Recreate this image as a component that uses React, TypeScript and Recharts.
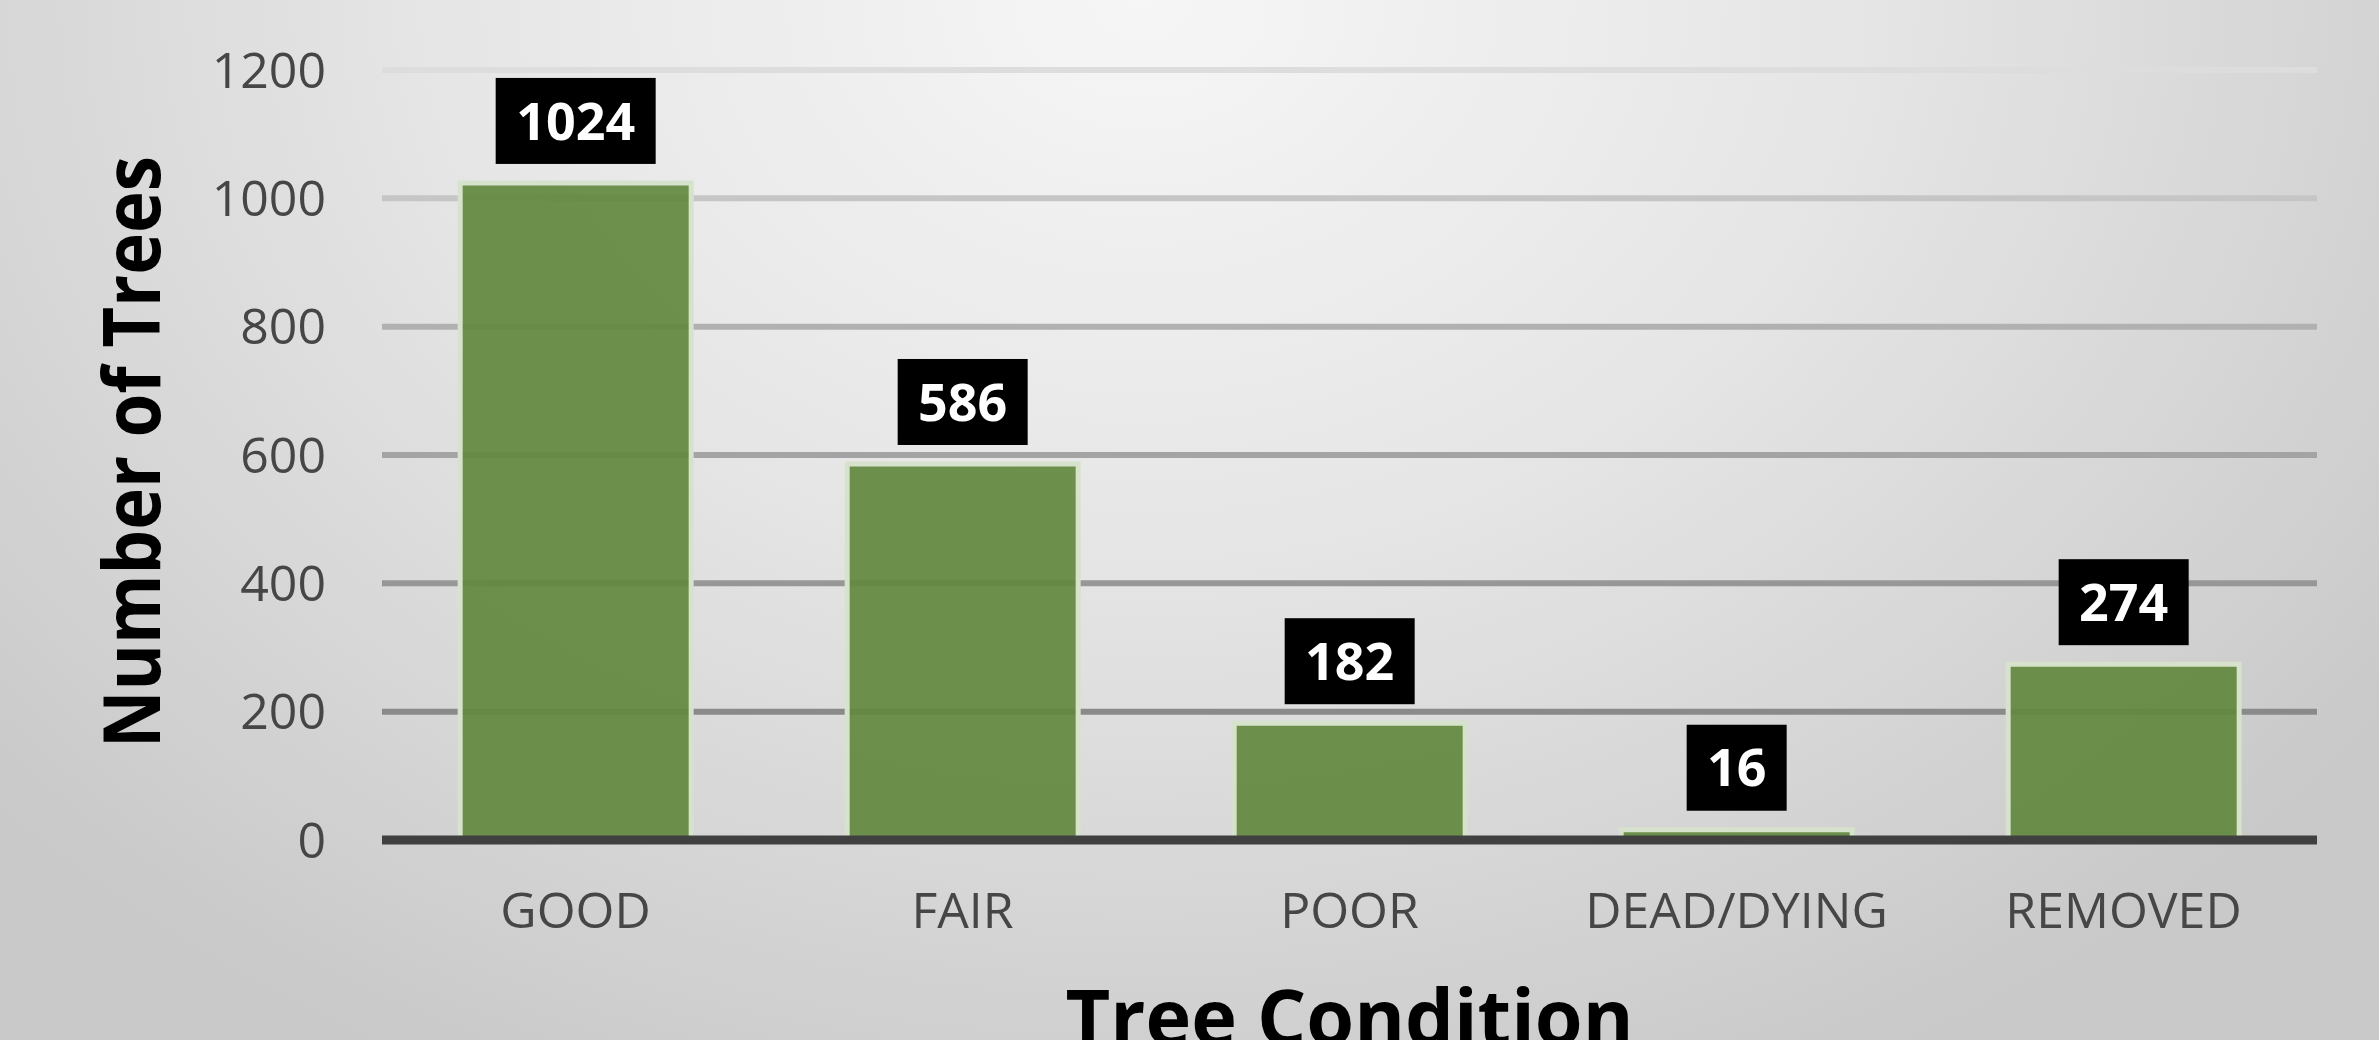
import React from 'react';
import { BarChart, Bar, XAxis, YAxis, CartesianGrid, LabelList, Label } from 'recharts';

const categories = ['GOOD', 'FAIR', 'POOR', 'DEAD/DYING', 'REMOVED'];
const treeCounts = [1024, 586, 182, 16, 274];
const yTicks = [0, 200, 400, 600, 800, 1000, 1200];

const data = categories.map((name, i) => ({ name, count: treeCounts[i] }));

const FONT = '"Open Sans", "DejaVu Sans", sans-serif';

const renderValueLabel = (props: any) => {
  const { x, y, width, value } = props;
  const cx = Number(x) + Number(width) / 2;
  const text = String(value);
  const boxW = text.length * 30 + 40;
  const boxH = 86;
  const bottom = Number(y) - 19;
  const top = bottom - boxH;
  return (
    <g>
      <rect x={cx - boxW / 2} y={top} width={boxW} height={boxH} fill="#000000" />
      <text
        x={cx}
        y={top + boxH / 2}
        dy="0.36em"
        textAnchor="middle"
        fill="#ffffff"
        fontFamily={FONT}
        fontWeight={700}
        fontSize={52}
      >
        {text}
      </text>
    </g>
  );
};

const renderXTitle = (props: any) => {
  const vb = props.viewBox || {};
  const cx = vb.x + vb.width / 2;
  return (
    <text
      x={cx}
      y={vb.y + 205}
      textAnchor="middle"
      fill="#000000"
      fontFamily={FONT}
      fontWeight={700}
      fontSize={77}
      textLength={568}
      lengthAdjust="spacingAndGlyphs"
    >
      Tree Condition
    </text>
  );
};

const renderYTitle = (props: any) => {
  const vb = props.viewBox || {};
  const bx = vb.x + 160;
  const cy = vb.y + vb.height / 2 - 3;
  return (
    <text
      x={bx}
      y={cy}
      transform={`rotate(-90, ${bx}, ${cy})`}
      textAnchor="middle"
      fill="#000000"
      fontFamily={FONT}
      fontWeight={700}
      fontSize={78}
      textLength={592}
      lengthAdjust="spacingAndGlyphs"
    >
      Number of Trees
    </text>
  );
};

export default function App() {
  return (
    <div
      style={{
        position: 'absolute',
        left: 0,
        top: 0,
        width: 2379,
        height: 1040,
        overflow: 'hidden',
        background:
          'radial-gradient(ellipse 65% 115% at 48% 0%, #f6f6f6 0%, #e6e6e6 45%, #c9c9c9 100%)',
      }}
    >
      <BarChart
        width={2379}
        height={1040}
        data={data}
        margin={{ top: 70, right: 62, bottom: 0, left: 0 }}
        barCategoryGap="20.2%"
      >
        <defs>
          <linearGradient id="gridGrad" gradientUnits="userSpaceOnUse" x1="0" y1="70" x2="0" y2="711">
            <stop offset="0%" stopColor="#dddddd" />
            <stop offset="35%" stopColor="#b4b4b4" />
            <stop offset="100%" stopColor="#8a8a8a" />
          </linearGradient>
        </defs>
        <CartesianGrid
          vertical={false}
          stroke="url(#gridGrad)"
          strokeWidth={6}
        />
        <XAxis
          dataKey="name"
          height={200}
          tickLine={false}
          tickSize={0}
          tickMargin={52}
          axisLine={{ stroke: '#404040', strokeWidth: 9 }}
          tick={{ fill: '#464646', fontSize: 50, fontFamily: FONT, fontWeight: 400 }}
          interval={0}
        >
          <Label content={renderXTitle} />
        </XAxis>
        <YAxis
          width={382}
          domain={[0, 1200]}
          ticks={yTicks}
          tickLine={false}
          tickSize={0}
          tickMargin={56}
          axisLine={false}
          tick={{ fill: '#464646', fontSize: 50, fontFamily: FONT, fontWeight: 400 }}
        >
          <Label content={renderYTitle} />
        </YAxis>
        <Bar
          dataKey="count"
          fill="#62893f"
          fillOpacity={0.92}
          stroke="#d6e2cb"
          strokeWidth={5}
          isAnimationActive={false}
        >
          <LabelList dataKey="count" content={renderValueLabel} />
        </Bar>
      </BarChart>
    </div>
  );
}
